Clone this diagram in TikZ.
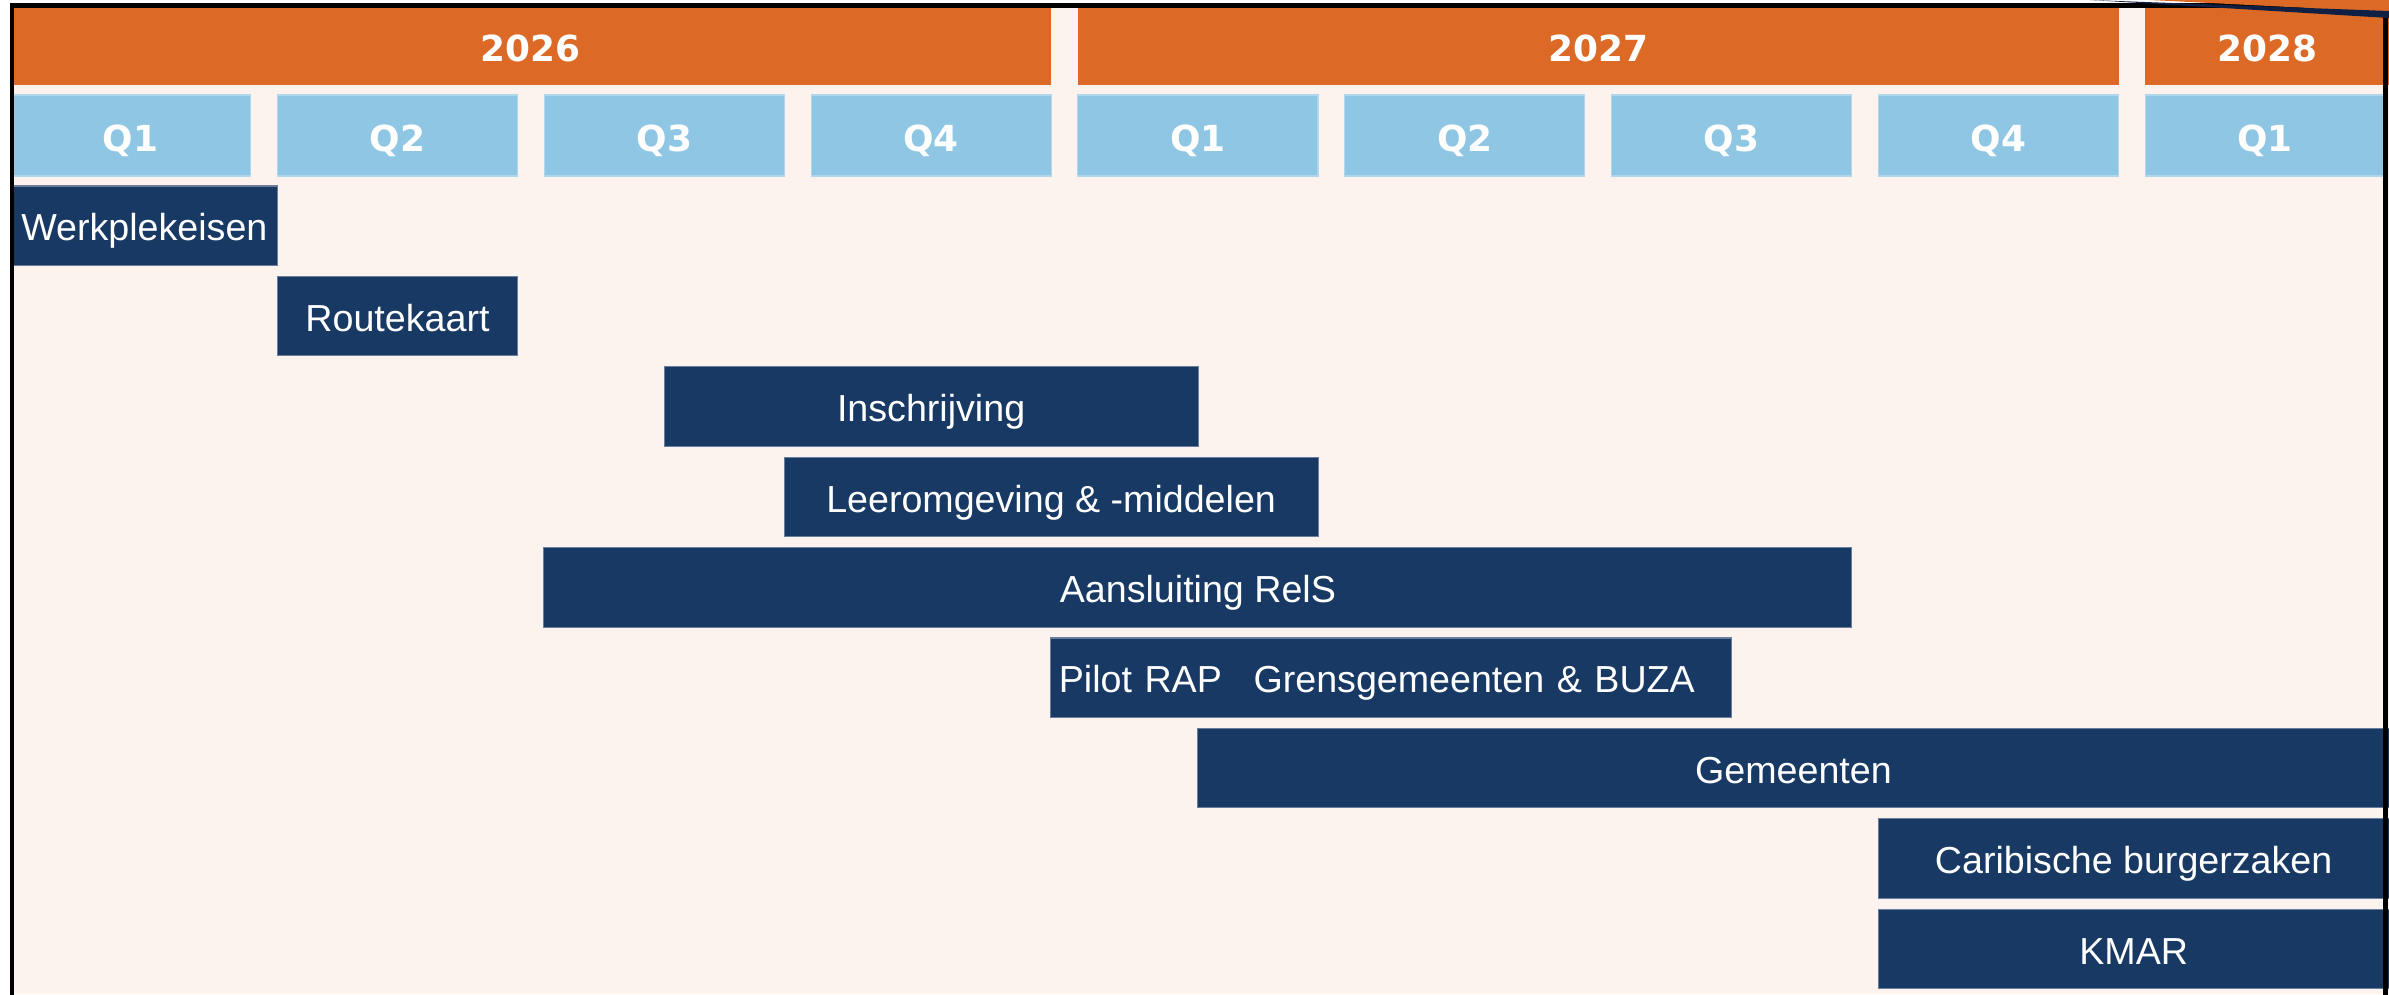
\documentclass[tikz,border=0pt]{standalone}
\usepackage{fontspec}
\setmainfont{Liberation Sans}
\newfontfamily\rmHeadFont{DejaVu Sans}
\usepackage{tikz}
\usetikzlibrary{arrows.meta}

\definecolor{rmOrange}{RGB}{220,106,38}
\definecolor{rmLightBlue}{RGB}{142,198,228}
\definecolor{rmNavy}{RGB}{23,57,100}
\definecolor{rmDarkNavy}{RGB}{16,32,68}
\definecolor{rmBack}{RGB}{252,243,238}

\tikzset{
  jaar/.style={fill=rmOrange, text=white, inner sep=0pt, minimum height=0.78cm,
    font=\rmHeadFont\bfseries\fontsize{10.2}{12}\selectfont, text height=8.7pt, text depth=0pt},
  kwartaal/.style={fill=rmLightBlue, draw=rmLightBlue!70!white, line width=0.3pt, text=white,
    inner sep=0pt, minimum width=2.4cm, minimum height=0.81cm,
    font=\rmHeadFont\bfseries\fontsize{10.2}{12}\selectfont, text height=9.2pt, text depth=0pt},
  taak/.style={fill=rmNavy, draw=rmNavy!65!white, line width=0.3pt, text=white, inner sep=0pt,
    minimum height=0.795cm, font=\fontsize{10.7}{13}\selectfont, text height=8.6pt, text depth=0pt},
}

\begin{document}
\begin{tikzpicture}[x=0.01cm, y=-0.01cm]
        \clip (0,0) rectangle (2389,994);
        % canvas
        \fill[white] (0,0) rectangle (2389,994);
        \fill[rmBack] (14,7) rectangle (2389,994);
        % years
        \node[jaar, minimum width=10.4cm] (j2026) at (530.7,46) {2026};
        \node[jaar, minimum width=10.404cm] (j2027) at (1598.1,46) {2027};
        \node[jaar, minimum width=2.44cm] (j2028) at (2267,46) {2028};
        % quarters
        \foreach \k/\q in {0/Q1,1/Q2,2/Q3,3/Q4,4/Q1,5/Q2,6/Q3,7/Q4,8/Q1}
          \node[kwartaal] (q\k) at ({130.7+266.8*\k},135.5) {\q};
        % tasks
        \node[taak, minimum width=2.667cm] (werkplek) at (144.35,225.75) {Werkplekeisen};
        \node[taak, minimum width=2.4cm] (routekaart) at (397.5,316.15) {Routekaart};
        \node[taak, minimum width=5.336cm] (inschrijving) at (931.1,406.55) {Inschrijving};
        \node[taak, minimum width=5.336cm] (leeromgeving) at (1051.1,496.95) {Leeromgeving \& -middelen};
        \node[taak, minimum width=13.072cm] (reis) at (1197.9,587.35) {Aansluiting RelS};
        \node[taak, text width=6.645cm, inner xsep=0.08cm, align=left] (pilot) at (1391.25,677.75)
          {Pilot RAP\hspace{9pt}Grensgemeenten \& BUZA};
        \node[taak, minimum width=11.911cm] (gemeenten) at (1793.45,768.15) {Gemeenten};
        \node[taak, minimum width=5.107cm] (caribisch) at (2133.65,858.55) {Caribische burgerzaken};
        \node[taak, minimum width=5.107cm] (kmar) at (2133.65,948.95) {KMAR};
        % frame
        \draw[line width=1.28pt] (12,1010) -- (12,5.3) -- (2385.5,5.3) -- (2385.5,1010);
        % cut-off edge top right
        \fill[rmOrange] (2150,0) -- (2389,0) -- (2389,12) -- cycle;
        \fill[rmDarkNavy] (2090,0) -- (2389,11) -- (2389,18) -- cycle;
\end{tikzpicture}
\end{document}
